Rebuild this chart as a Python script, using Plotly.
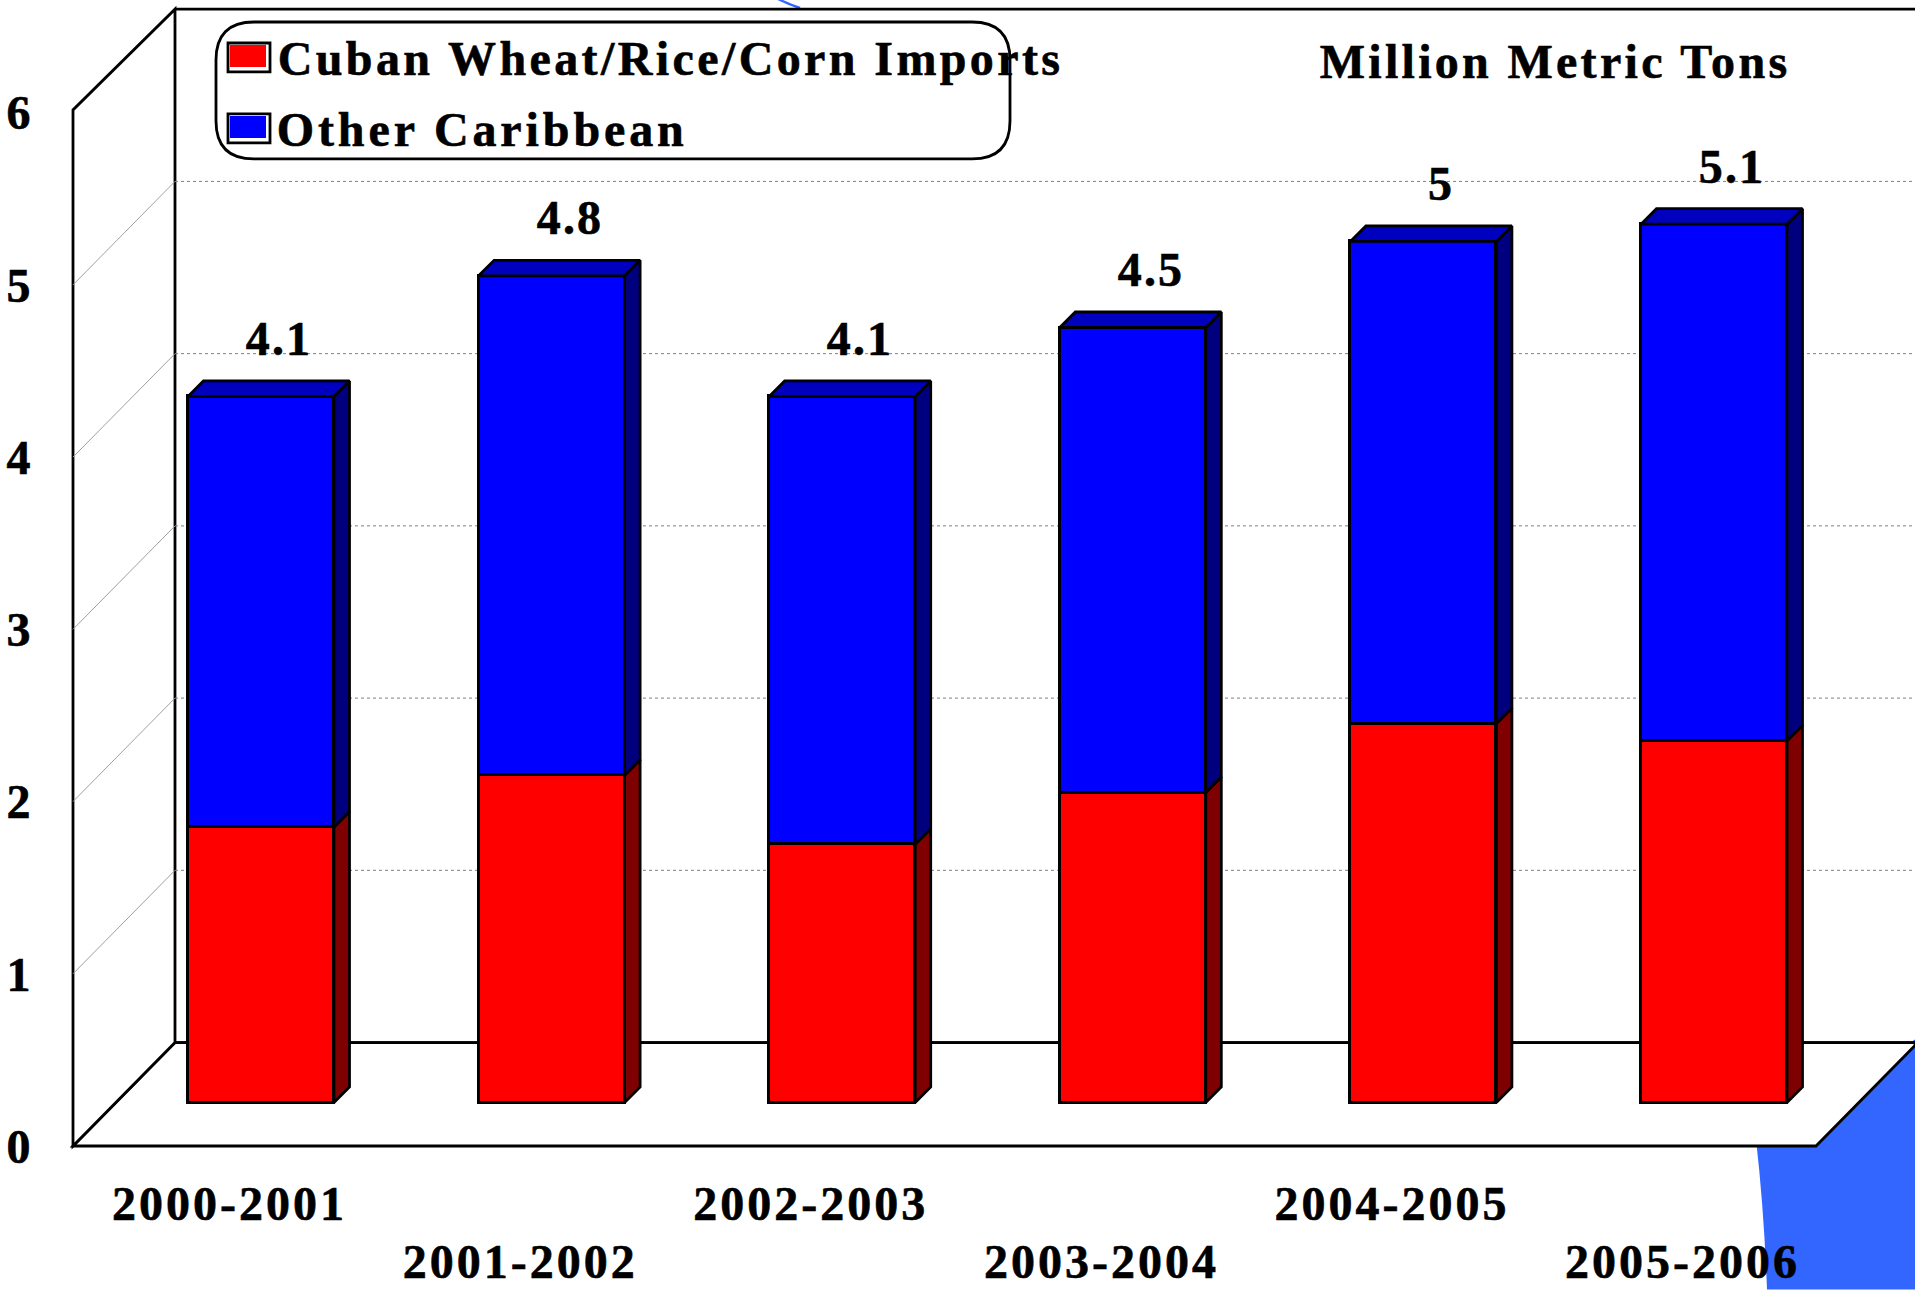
import plotly.graph_objects as go

seasons = ["2000-2001", "2001-2002", "2002-2003", "2003-2004", "2004-2005", "2005-2006"]
cuban = [1.6, 1.9, 1.5, 1.8, 2.2, 2.1]
other = [2.5, 2.9, 2.6, 2.7, 2.8, 3.0]
totals = [4.1, 4.8, 4.1, 4.5, 5, 5.1]
y_ticks = [0, 1, 2, 3, 4, 5, 6]
names = ["Cuban Wheat/Rice/Corn Imports", "Other Caribbean"]
unit_title = "Million Metric Tons"

W, H = 1915, 1292
L, B = 73, 1146.5           # front wall left edge, front floor line
UNIT = 172.3                # px per unit on y
STEP = 290.6                # px per category
BAR0 = 261                  # px centre of the first bar
LAB0 = 229.6                # px centre of the first axis label
BASE = 1103                 # px of bar base
BACK_X, BACK_Y = 175, 1043  # back wall corner
DX, DY = 15.5, 15.5         # px depth of bars
FONT = "Liberation Serif"
RED, BLUE = "#FF0000", "#0000FF"
RED_SIDE, BLUE_SIDE, BLUE_TOP = "#7F0000", "#00007F", "#0000BF"
DECOR = "#3366FF"
LW = 2.8


def px(x):
    return (x - L) / (W - L)


def py(y):
    return (B - y) / B


def path(points, close=True):
    s = "M " + " L ".join(f"{px(x)},{py(y)}" for x, y in points)
    return s + (" Z" if close else "")


shapes = []


def add(points, fill=None, line="black", width=LW, close=True, dash=None):
    shapes.append(dict(
        type="path", xref="paper", yref="paper", path=path(points, close), layer="below",
        fillcolor=fill if fill else "rgba(0,0,0,0)",
        line=dict(color=line if line else "rgba(0,0,0,0)", width=width, dash=dash),
    ))


# decorative backdrop
shapes.append(dict(
    type="path", xref="paper", yref="paper", layer="below", fillcolor=DECOR, line=dict(width=0),
    path=f"M {px(1756)},{py(1140)} Q {px(1764)},{py(1210)} {px(1767)},{py(1290)} "
         f"L {px(1915)},{py(1290)} L {px(1915)},{py(1040)} Z",
))
shapes.append(dict(
    type="path", xref="paper", yref="paper", layer="below", line=dict(color=DECOR, width=2.5),
    path=f"M {px(778)},{py(-1)} Q {px(788)},{py(4)} {px(800)},{py(8)}",
))

# walls and floor
add([(L, B), (BACK_X, BACK_Y), (W, BACK_Y), (W, 1046), (1816, B)], fill="white")
add([(L, B), (L, 110), (BACK_X, BACK_Y - 6 * UNIT), (BACK_X, BACK_Y)], fill="white")
add([(BACK_X, BACK_Y - 6 * UNIT), (W + 5, BACK_Y - 6 * UNIT)], close=False)
add([(BACK_X, BACK_Y), (W + 5, BACK_Y)], close=False)
for k in y_ticks[1:-1]:
    yb = BACK_Y - k * UNIT
    yf = B - k * UNIT
    add([(BACK_X, yb), (W, yb)], line="#808080", width=1, close=False, dash="dot")
    add([(L, yf), (BACK_X, yb)], line="#A0A0A0", width=1, close=False)

# legend box
x0, x1, y0, y1, r = 216, 1010, 22, 159, 38
shapes.append(dict(
    type="path", xref="paper", yref="paper", layer="above", line=dict(color="black", width=LW),
    path=f"M {px(x0 + r)},{py(y0)} L {px(x1 - r)},{py(y0)} Q {px(x1)},{py(y0)} {px(x1)},{py(y0 + r)} "
         f"L {px(x1)},{py(y1 - r)} Q {px(x1)},{py(y1)} {px(x1 - r)},{py(y1)} "
         f"L {px(x0 + r)},{py(y1)} Q {px(x0)},{py(y1)} {px(x0)},{py(y1 - r)} "
         f"L {px(x0)},{py(y0 + r)} Q {px(x0)},{py(y0)} {px(x0 + r)},{py(y0)} Z",
))
for top, col in ((43, RED), (114, BLUE)):
    shapes.append(dict(type="rect", xref="paper", yref="paper", layer="above",
                       x0=px(228), x1=px(270), y0=py(top), y1=py(top + 29),
                       fillcolor="white", line=dict(color="black", width=LW)))
    shapes.append(dict(type="rect", xref="paper", yref="paper", layer="above",
                       x0=px(230), x1=px(266), y0=py(top + 2), y1=py(top + 24),
                       fillcolor=col, line=dict(width=0)))

dx = DX / STEP
dy = DY / UNIT
half = 146 / STEP / 2
idx = list(range(len(seasons)))


def polys(lows, highs):
    xs, ys = [], []
    for i, lo, hi in zip(idx, lows, highs):
        r_ = i + half
        xs += [r_, r_ + dx, r_ + dx, r_, r_, None]
        ys += [lo, lo + dy, hi + dy, hi, lo, None]
    return xs, ys


def tops(highs):
    xs, ys = [], []
    for i, hi in zip(idx, highs):
        a, b = i - half, i + half
        xs += [a, a + dx, b + dx, b, a, None]
        ys += [hi, hi + dy, hi + dy, hi, hi, None]
    return xs, ys


fig = go.Figure()
# invisible anchors keep both label axes alive
fig.add_trace(go.Scatter(x=[0], y=[0], xaxis="x", yaxis="y", mode="markers", opacity=0,
                         hoverinfo="skip", showlegend=False))
fig.add_trace(go.Scatter(x=[0], y=[0], xaxis="x3", yaxis="y", mode="markers", opacity=0,
                         hoverinfo="skip", showlegend=False))
fig.add_trace(go.Bar(x=idx, y=cuban, name=names[0], xaxis="x2", yaxis="y2", width=146 / STEP,
                     marker=dict(color=RED, line=dict(color="black", width=LW)), showlegend=False))
fig.add_trace(go.Bar(x=idx, y=other, name=names[1], xaxis="x2", yaxis="y2", width=146 / STEP,
                     marker=dict(color=BLUE, line=dict(color="black", width=LW)), showlegend=False))
sx, sy = polys([0] * len(cuban), cuban)
fig.add_trace(go.Scatter(x=sx, y=sy, xaxis="x2", yaxis="y2", mode="lines", fill="toself",
                         fillcolor=RED_SIDE, line=dict(color="black", width=LW),
                         hoverinfo="skip", showlegend=False))
sx, sy = polys(cuban, totals)
fig.add_trace(go.Scatter(x=sx, y=sy, xaxis="x2", yaxis="y2", mode="lines", fill="toself",
                         fillcolor=BLUE_SIDE, line=dict(color="black", width=LW),
                         hoverinfo="skip", showlegend=False))
sx, sy = tops(totals)
fig.add_trace(go.Scatter(x=sx, y=sy, xaxis="x2", yaxis="y2", mode="lines", fill="toself",
                         fillcolor=BLUE_TOP, line=dict(color="black", width=LW),
                         hoverinfo="skip", showlegend=False))

annotations = []
for i, t in zip(idx, totals):
    annotations.append(dict(x=i, y=t, xref="x2", yref="y2", text=f"{t:g}", showarrow=False,
                            xshift=18, yshift=58, font=dict(family=FONT, size=48, color="black")))
for text, xp, yp in ((names[0], 670, 59), (names[1], 482, 130), (unit_title, 1555, 62)):
    annotations.append(dict(x=px(xp), y=py(yp), xref="paper", yref="paper", text=text,
                            showarrow=False, xanchor="center", yanchor="middle",
                            font=dict(family=FONT, size=48, color="black")))

bold = dict(family=FONT, size=48, color="black", weight="bold")
for a in annotations:
    a["font"]["weight"] = "bold"

clear = "rgba(0,0,0,0)"
fig.update_layout(
    template="none",
    width=W, height=H, autosize=False,
    margin=dict(l=L, r=0, t=0, b=H - B, pad=0),
    paper_bgcolor="white", plot_bgcolor="rgba(0,0,0,0)",
    barmode="stack", bargap=0, showlegend=False,
    shapes=shapes, annotations=annotations,
    xaxis=dict(range=[(L - LAB0) / STEP, (W - LAB0) / STEP], tickmode="array",
               tickvals=idx[0::2], ticktext=seasons[0::2], tickfont=bold, automargin=False,
               ticks="outside", ticklen=15, tickcolor=clear, showgrid=False, zeroline=False,
               showline=False, anchor="y"),
    xaxis3=dict(range=[(L - LAB0) / STEP, (W - LAB0) / STEP], tickmode="array",
                tickvals=idx[1::2], ticktext=seasons[1::2], tickfont=bold, automargin=False,
                ticks="outside", ticklen=73, tickcolor=clear, showgrid=False, zeroline=False,
                showline=False, anchor="y", overlaying="x"),
    xaxis2=dict(range=[(L - BAR0) / STEP, (W - BAR0) / STEP], visible=False, overlaying="x",
                anchor="y2", automargin=False),
    yaxis=dict(range=[0, B / UNIT], tickmode="array", tickvals=y_ticks, tickfont=bold,
               automargin=False, ticks="outside", ticklen=32, tickcolor=clear, showgrid=False,
               zeroline=False, showline=False, anchor="x"),
    yaxis2=dict(range=[(BASE - B) / UNIT, BASE / UNIT], visible=False, overlaying="y",
                anchor="x2", automargin=False),
)

post = """
document.body.style.margin='0';
document.body.style.overflow='hidden';
var wide={'Cuban':3.4,'Other':3.9,'Milli':3.3,'2000-':3.0,'2001-':3.0,'2002-':3.0,'2003-':3.0,'2004-':3.0,'2005-':3.0};
document.querySelectorAll('.xtick text,.x3tick text,.annotation-text').forEach(function(t){
  var k=(t.textContent||'').slice(0,5);
  t.style.letterSpacing=(wide[k]!==undefined?wide[k]:2.2)+'px';
});
document.querySelectorAll('.xtick text,.x3tick text,.ytick text,.annotation-text').forEach(function(t){
  t.style.stroke='black';
  t.style.strokeWidth='0.6px';
});
"""
fig.write_html("out.html", post_script=post, config={"displayModeBar": False})
